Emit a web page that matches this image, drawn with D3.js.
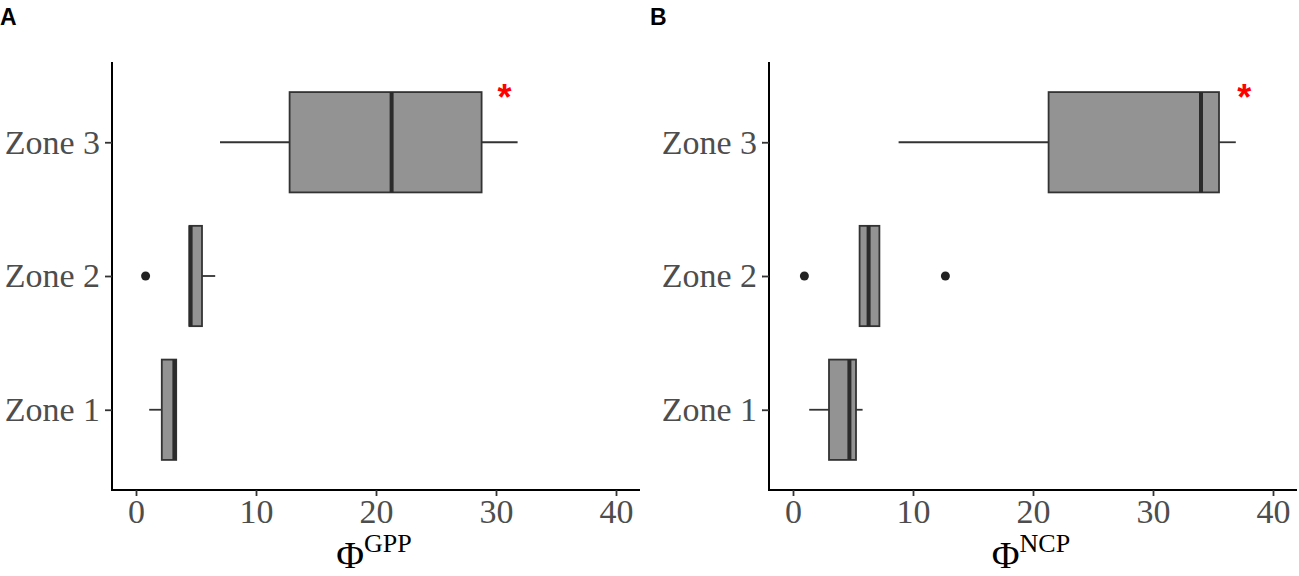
<!DOCTYPE html>
<html>
<head>
<meta charset="utf-8">
<script src="https://cdn.jsdelivr.net/npm/d3@7"></script>
<style>
  body { margin: 0; background: #fff; }
  svg { display: block; }
</style>
</head>
<body>
<svg id="svg1" width="1299" height="576"></svg>
<script>
const zones = ["Zone 1", "Zone 2", "Zone 3"];
const xTicks = [0, 10, 20, 30, 40];

// panel A: Phi GPP
const gppLow = [1.1, 4.45, 7.0];
const gppQ1 = [2.15, 4.45, 12.8];
const gppMed = [3.2, 4.55, 21.3];
const gppQ3 = [3.35, 5.5, 28.8];
const gppHigh = [3.35, 6.6, 31.8];
const gppOut = [[], [0.8], []];
const gppStar = 30.7;

// panel B: Phi NCP
const ncpLow = [1.35, 5.55, 8.8];
const ncpQ1 = [3.0, 5.55, 21.3];
const ncpMed = [4.7, 6.3, 34.0];
const ncpQ3 = [5.25, 7.2, 35.5];
const ncpHigh = [5.8, 7.2, 36.9];
const ncpOut = [[], [0.95, 12.7], []];
const ncpStar = 37.6;

const svg = d3.select('#svg1');

function drawPanel(opts) {
  const left = opts.left, right = opts.left + 528, top = 62, bottom = 490;

  const xScale = d3.scaleLinear().domain([-2, 42]).range([left, right]);
  const yScale = d3.scalePoint().domain(zones).range([bottom, top]).padding(0.6);
  const boxH = yScale.step() * 0.75;

  const rows = zones.map((z, i) => ({
    zone: z,
    low: opts.low[i], q1: opts.q1[i], med: opts.med[i],
    q3: opts.q3[i], high: opts.high[i], out: opts.out[i]
  }));

  const g = svg.append('g');

  // whiskers
  g.selectAll('line.wlo').data(rows).enter().append('line')
      .attr('x1', d => xScale(d.low)).attr('x2', d => xScale(d.q1))
      .attr('y1', d => yScale(d.zone)).attr('y2', d => yScale(d.zone))
      .attr('stroke', '#333').attr('stroke-width', 1.8);
  g.selectAll('line.whi').data(rows).enter().append('line')
      .attr('x1', d => xScale(d.q3)).attr('x2', d => xScale(d.high))
      .attr('y1', d => yScale(d.zone)).attr('y2', d => yScale(d.zone))
      .attr('stroke', '#333').attr('stroke-width', 1.8);

  // boxes
  g.selectAll('rect').data(rows).enter().append('rect')
      .attr('x', d => xScale(d.q1))
      .attr('width', d => xScale(d.q3) - xScale(d.q1))
      .attr('y', d => yScale(d.zone) - boxH / 2)
      .attr('height', boxH)
      .attr('fill', '#939393')
      .attr('stroke', '#333').attr('stroke-width', 1.8);

  // medians
  g.selectAll('line.med').data(rows).enter().append('line')
      .attr('x1', d => xScale(d.med)).attr('x2', d => xScale(d.med))
      .attr('y1', d => yScale(d.zone) - boxH / 2)
      .attr('y2', d => yScale(d.zone) + boxH / 2)
      .attr('stroke', '#2b2b2b').attr('stroke-width', 4);

  // outliers
  const outs = [];
  rows.forEach(r => r.out.forEach(v => outs.push({ zone: r.zone, v: v })));
  g.selectAll('circle').data(outs).enter().append('circle')
      .attr('cx', d => xScale(d.v)).attr('cy', d => yScale(d.zone))
      .attr('r', 4.5).attr('fill', '#222');

  // significance star
  g.append('text')
      .attr('x', xScale(opts.star))
      .attr('y', yScale('Zone 3') - boxH / 2 + 18)
      .attr('text-anchor', 'middle')
      .attr('fill', '#ff0000')
      .style('font-family', 'Liberation Sans, Arial, sans-serif')
      .style('font-weight', 'bold')
      .style('font-size', '36px')
      .text('*');

  // axes
  const xAxis = d3.axisBottom(xScale).tickValues(xTicks).tickSize(6).tickPadding(3).tickSizeOuter(0);
  const yAxis = d3.axisLeft(yScale).tickSize(7).tickPadding(5).tickSizeOuter(0);

  const gx = svg.append('g').attr('transform', 'translate(0,' + bottom + ')').call(xAxis);
  const gy = svg.append('g').attr('transform', 'translate(' + left + ',0)').call(yAxis);

  [gx, gy].forEach(a => {
    a.select('.domain').attr('stroke', '#000').attr('stroke-width', 2);
    a.selectAll('.tick line').attr('stroke', '#333').attr('stroke-width', 1.8);
    a.selectAll('.tick text')
        .attr('fill', '#4d4d4d')
        .style('font-family', 'Liberation Serif, Times New Roman, serif')
        .style('font-size', '34px');
  });
  gy.select('.domain').attr('d', 'M0,' + top + 'V' + (bottom + 1));
  gx.select('.domain').attr('d', 'M' + (left - 1) + ',0H' + right);

  // axis title
  const title = svg.append('text')
      .attr('x', (left + right) / 2 - 2)
      .attr('y', 568)
      .attr('text-anchor', 'middle')
      .attr('fill', '#000')
      .style('font-family', 'Liberation Serif, Times New Roman, serif');
  title.append('tspan').style('font-size', '38px').text('Φ');
  title.append('tspan').attr('dy', -16).style('font-size', '26px').text(opts.sup);

  // panel letter
  svg.append('text')
      .attr('x', opts.letterX).attr('y', 25)
      .attr('fill', '#000')
      .style('font-family', 'Liberation Sans, Arial, sans-serif')
      .style('font-weight', 'bold')
      .style('font-size', '23px')
      .text(opts.letter);
}

drawPanel({
  left: 112, letter: 'A', letterX: 0, sup: 'GPP',
  low: gppLow, q1: gppQ1, med: gppMed, q3: gppQ3, high: gppHigh, out: gppOut, star: gppStar
});

drawPanel({
  left: 769, letter: 'B', letterX: 650, sup: 'NCP',
  low: ncpLow, q1: ncpQ1, med: ncpMed, q3: ncpQ3, high: ncpHigh, out: ncpOut, star: ncpStar
});
</script>
</body>
</html>
